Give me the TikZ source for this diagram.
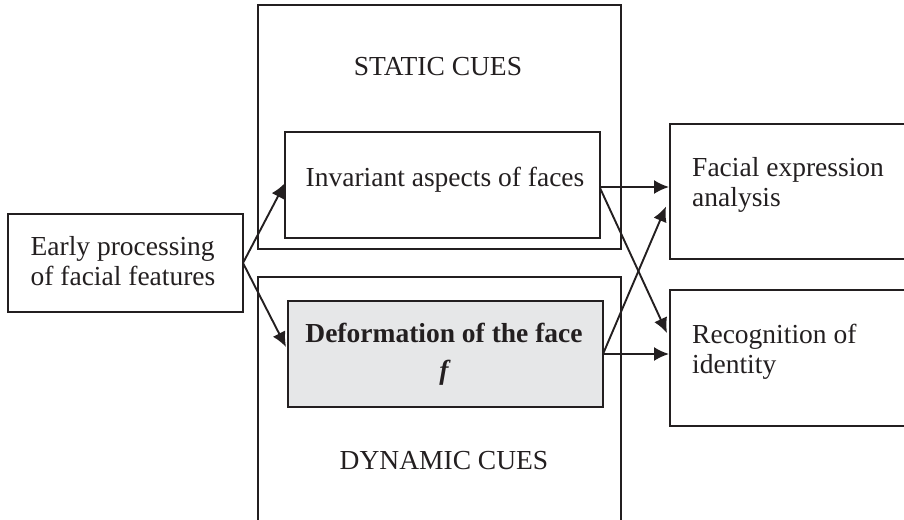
\documentclass[tikz,border=0pt]{standalone}
\usepackage{fontspec}
\setmainfont{Liberation Serif}
\usetikzlibrary{arrows.meta,calc}
\definecolor{ink}{HTML}{231F20}
\definecolor{shade}{HTML}{E6E7E8}
\tikzset{
  box/.style={draw=ink, line width=2.2pt, minimum width=#1, inner sep=0pt, outer sep=0pt},
  lbl/.style={font=\fontsize{27.5}{30}\selectfont, text=ink, inner sep=0pt},
  conn/.style={draw=ink, line width=1.9pt, -{Latex[length=15pt,width=14pt]}},
}
\begin{document}
\begin{tikzpicture}[x=1pt,y=-1pt]
\useasboundingbox (0,0) rectangle (904,519);
\clip (0,0) rectangle (904,519);
% outer cue boxes
\node[box=363pt, minimum height=244pt] (static) at (439.5,127) {};
\path[draw=ink, line width=2.2pt] (258,540) -- (258,277) -- (621,277) -- (621,540);
\coordinate (dyntop) at (439.5,277);
\node[lbl] (statictxt) at (438,67) {STATIC CUES};
\node[lbl] (dyntxt) at (444,461) {DYNAMIC CUES};
% inner boxes
\node[box=315pt, minimum height=106pt] (inv) at (442.5,185) {};
\node[box=315pt, minimum height=106pt, fill=shade] (def) at (445.5,354) {};
\node[lbl] (invtxt) at (445,180) {Invariant aspects of faces};
\node[lbl, font=\fontsize{27.5}{30}\selectfont\bfseries] (deftxt) at (444,333) {Deformation of the face};
\node[lbl] (ftxt) at (444,373) {\bfseries\itshape f};
% early
\node[box=235pt, minimum height=98pt] (early) at (125.5,263) {};
\node[lbl, align=left] (earlytxt) at (123,261) {Early processing\\of facial features};
% right boxes
\node[box=250pt, minimum height=135pt] (fac) at (795,191.5) {};
\node[box=250pt, minimum height=136pt] (rec) at (795,358) {};
\node[lbl, align=left, anchor=west] (factxt) at (692,185) {Facial expression\\analysis};
\node[lbl, align=left, anchor=west] (rectxt) at (692,352) {Recognition of\\identity};
% connectors
\draw[conn] (early.east) -- ($(inv.west)+(0,-2)$);
\draw[conn] (early.east) -- ($(def.west)+(-2,-7)$);
\draw[conn] ($(inv.east)+(0,2)$) -- ($(inv.east -| fac.west)+(-1,2)$);
\draw[conn] ($(inv.east)+(0,3)$) -- ($(rec.west)+(-3,-25)$);
\draw[conn] (def.east) -- ($(fac.west)+(-4,15)$);
\draw[conn] (def.east) -- ($(def.east -| rec.west)+(-1,0)$);
\end{tikzpicture}
\end{document}
